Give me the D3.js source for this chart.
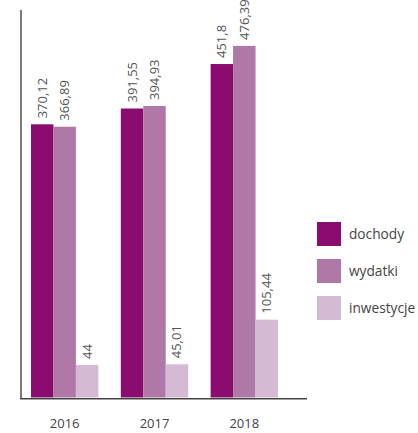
<!DOCTYPE html>
<html>
<head>
<meta charset="utf-8">
<script src="https://cdn.jsdelivr.net/npm/d3@7"></script>
<style>
  html, body { margin: 0; padding: 0; background: #fff; }
  svg { display: block; font-family: "Open Sans", sans-serif; }
</style>
</head>
<body>
<svg id="chart" width="418" height="433"></svg>
<script>
const years = ["2016", "2017", "2018"];
const seriesNames = ["dochody", "wydatki", "inwestycje"];
const dochody = [370.12, 391.55, 451.8];
const wydatki = [366.89, 394.93, 476.39];
const inwestycje = [44, 45.01, 105.44];
const valueLabels = [
  ["370,12", "391,55", "451,8"],
  ["366,89", "394,93", "476,39"],
  ["44", "45,01", "105,44"]
];
const colors = ["#8a0c6f", "#b078a6", "#d5bad4"];

const seriesValues = [dochody, wydatki, inwestycje];

const svg = d3.select("#chart");

const x0 = d3.scaleBand().domain(years).range([31, 278]).paddingInner(0.25).paddingOuter(0);
const x1 = d3.scaleBand().domain(seriesNames).range([0, x0.bandwidth()]).padding(0);
const y = d3.scaleLinear().domain([0, 525]).range([397.5, 10]);

// bars
seriesNames.forEach((s, si) => {
  const g = svg.append("g");
  years.forEach((yr, yi) => {
    const v = seriesValues[si][yi];
    const bx = x0(yr) + x1(s);
    g.append("rect")
      .attr("x", bx)
      .attr("y", y(v))
      .attr("width", x1.bandwidth())
      .attr("height", y(0) - y(v))
      .attr("fill", colors[si]);
    const cx = bx + x1.bandwidth() / 2;
    const ty = y(v) - 6;
    g.append("text")
      .attr("transform", `translate(${cx + 4.5},${ty}) rotate(-90)`)
      .attr("font-size", 13)
      .attr("fill", "#555")
      .attr("text-anchor", "start")
      .text(valueLabels[si][yi]);
  });
});

// axes
svg.append("line")
  .attr("x1", 21).attr("x2", 21)
  .attr("y1", 10).attr("y2", 399)
  .attr("stroke", "#7a7a7a").attr("stroke-width", 2);
svg.append("line")
  .attr("x1", 20).attr("x2", 307)
  .attr("y1", 398.75).attr("y2", 398.75)
  .attr("stroke", "#444").attr("stroke-width", 1.5);

// x tick labels
svg.append("g").selectAll("text")
  .data(years).join("text")
  .attr("x", d => x0(d) + x0.bandwidth() / 2)
  .attr("y", 428)
  .attr("text-anchor", "middle")
  .attr("font-size", 13)
  .attr("fill", "#444")
  .text(d => d);

// legend
const legend = svg.append("g");
seriesNames.forEach((s, i) => {
  const ly = 222 + i * 37;
  legend.append("rect")
    .attr("x", 317).attr("y", ly)
    .attr("width", 24).attr("height", 24)
    .attr("fill", colors[i]);
  legend.append("text")
    .attr("x", 349).attr("y", ly + 12)
    .attr("dy", "0.35em")
    .attr("font-size", 13.7)
    .attr("fill", "#444")
    .text(s);
});
</script>
</body>
</html>
